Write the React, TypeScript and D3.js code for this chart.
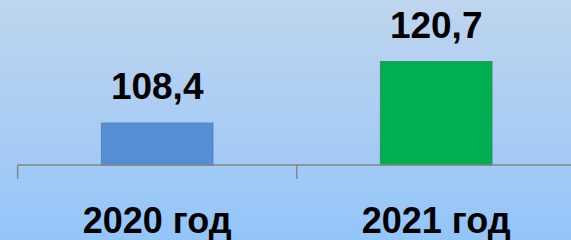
import React from "react";
import * as d3 from "d3";

const categories = ["2020 год", "2021 год"];
const values = [108.4, 120.7];
const valueLabels = ["108,4", "120,7"];
const barColors = ["#558ed5", "#00b050"];
const barStrokes = ["#5f85b5", "#3a8a66"];

const W = 571;
const H = 240;

export default function App() {
  const x = d3
    .scaleBand<string>()
    .domain(categories)
    .range([17.7, 17.7 + 279 * categories.length])
    .paddingInner(0.6)
    .paddingOuter(0.3);
  const y = d3.scaleLinear().domain([100, 130]).range([165, 15]);
  const step = x.step();
  const x0 = x.range()[0];
  const tickXs = d3.range(categories.length + 1).map((i) => x0 + i * step);
  const font = "'Liberation Sans', Arial, sans-serif";

  return (
    <svg
      width={W}
      height={H}
      style={{ position: "fixed", left: 0, top: 0, display: "block" }}
    >
      <defs>
        <linearGradient id="bg" x1="0" y1="0" x2="0" y2="1">
          <stop offset="0%" stopColor="#bed5ee" />
          <stop offset="50%" stopColor="#aacdf3" />
          <stop offset="100%" stopColor="#93c5fa" />
        </linearGradient>
      </defs>
      <rect x={0} y={0} width={W} height={H} fill="url(#bg)" />
      {categories.map((c, i) => (
        <rect
          key={c}
          x={x(c)!}
          y={y(values[i])}
          width={x.bandwidth()}
          height={y(100) - y(values[i])}
          fill={barColors[i]}
          stroke={barStrokes[i]}
          strokeWidth={1}
        />
      ))}
      <line
        x1={tickXs[0]}
        x2={W}
        y1={y(100)}
        y2={y(100)}
        stroke="#868686"
        strokeWidth={1.5}
      />
      {tickXs.map((tx, i) => (
        <line
          key={i}
          x1={tx}
          x2={tx}
          y1={y(100)}
          y2={y(100) + 14}
          stroke="#868686"
          strokeWidth={1.5}
        />
      ))}
      {categories.map((c, i) => (
        <text
          key={"v" + c}
          x={x(c)! + x.bandwidth() / 2}
          y={y(values[i]) - 24}
          textAnchor="middle"
          fontFamily={font}
          fontWeight="bold"
          fontSize={37}
          fill="#000"
        >
          {valueLabels[i]}
        </text>
      ))}
      {categories.map((c) => (
        <text
          key={"c" + c}
          x={x(c)! + x.bandwidth() / 2}
          y={232.5}
          textAnchor="middle"
          fontFamily={font}
          fontWeight="bold"
          fontSize={36}
          fill="#000"
        >
          {c}
        </text>
      ))}
    </svg>
  );
}
